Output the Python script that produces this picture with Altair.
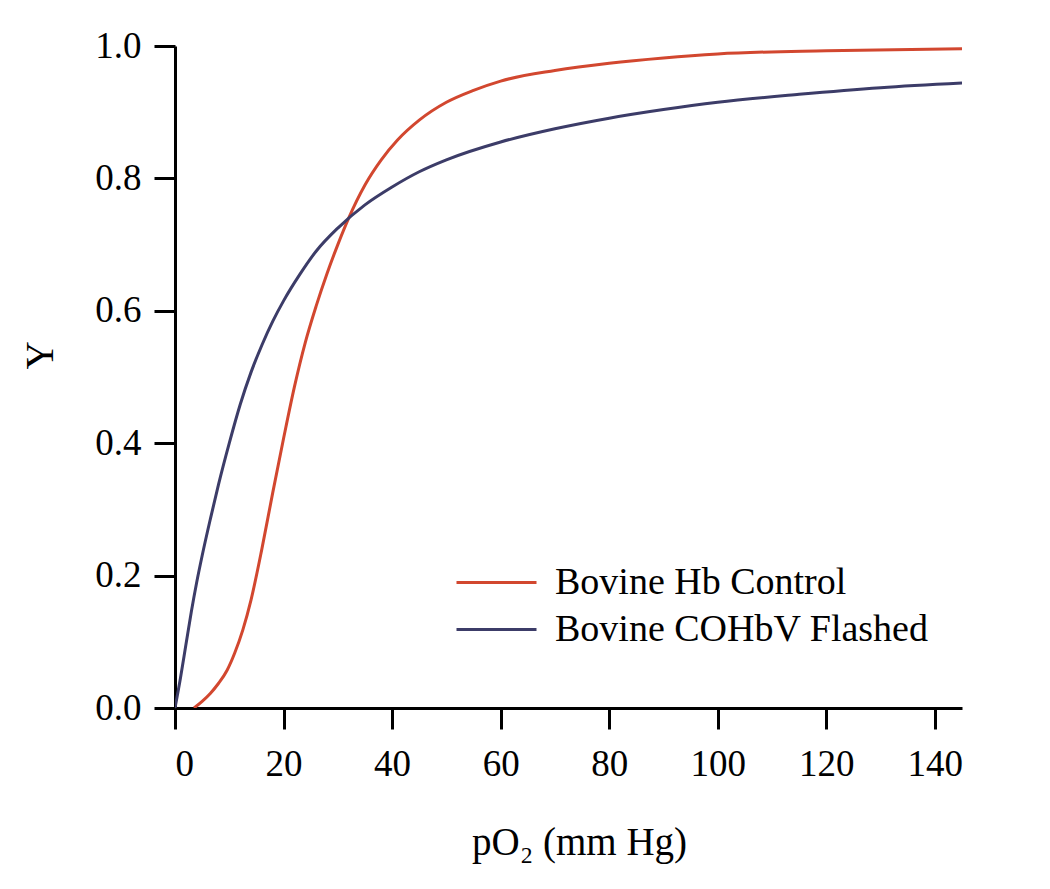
import altair as alt
import pandas as pd

series_names = ["Bovine Hb Control", "Bovine COHbV Flashed"]
series_colors = ["#d2472f", "#3c3c68"]

control_x = [3.5, 5, 6.5, 8, 9.6, 11, 12.5, 14, 16, 18, 20, 22, 24, 26, 28, 30, 32, 35, 38, 41, 45, 50, 55, 60, 70, 80, 90, 100, 120, 145]
control_y = [0.0, 0.01, 0.022, 0.037, 0.057, 0.083, 0.118, 0.163, 0.24, 0.325, 0.407, 0.485, 0.552, 0.607, 0.656, 0.70, 0.74, 0.79, 0.828, 0.858, 0.888, 0.915, 0.933, 0.947, 0.963, 0.974, 0.982, 0.988, 0.993, 0.996]

flashed_x = [0, 1, 2, 3, 4, 5, 6.5, 8, 10, 12, 14, 16, 18, 20, 23, 26, 30, 35, 40, 45, 50, 60, 70, 80, 90, 100, 115, 130, 145]
flashed_y = [0.0, 0.045, 0.095, 0.145, 0.19, 0.23, 0.285, 0.337, 0.40, 0.458, 0.507, 0.548, 0.584, 0.615, 0.655, 0.69, 0.725, 0.76, 0.787, 0.81, 0.828, 0.855, 0.875, 0.891, 0.904, 0.915, 0.927, 0.937, 0.944]

x_ticks = [0, 20, 40, 60, 80, 100, 120, 140]
y_ticks = [0.0, 0.2, 0.4, 0.6, 0.8, 1.0]

rows = []
for xv, yv in zip(control_x, control_y):
    rows.append({"pO2": xv, "Y": yv, "series": series_names[0]})
for xv, yv in zip(flashed_x, flashed_y):
    rows.append({"pO2": xv, "Y": yv, "series": series_names[1]})
df = pd.DataFrame(rows)

FONT = "Liberation Serif"

chart = alt.Chart(df).mark_line(strokeWidth=3, interpolate="monotone", clip=True).encode(
    x=alt.X("pO2:Q",
            scale=alt.Scale(domain=[0, 145], nice=False, zero=False),
            axis=alt.Axis(values=x_ticks, title="pO₂ (mm Hg)", format="d",
                          titleX=404, titleY=146, titleBaseline="alphabetic",
                          labelPadding=17)),
    y=alt.Y("Y:Q",
            scale=alt.Scale(domain=[0, 1], nice=False),
            axis=alt.Axis(values=y_ticks, title="Y", format=".1f",
                          titleX=-135, titleY=309, titleAngle=-90,
                          titleBaseline="middle", titleAlign="center",
                          labelPadding=13)),
    color=alt.Color("series:N",
                    scale=alt.Scale(domain=series_names, range=series_colors),
                    sort=series_names,
                    legend=alt.Legend(title=None, orient="none", legendX=280, legendY=514,
                                      symbolType="stroke", symbolSize=6400, symbolStrokeWidth=3,
                                      clipHeight=45,
                                      labelFont=FONT, labelFontSize=38, labelColor="black",
                                      labelLimit=600,
                                      labelOffset=17, rowPadding=2, padding=0, offset=0)),
    order=alt.Order("pO2:Q"),
).properties(
    width=787, height=662,
    autosize=alt.AutoSizeParams(type="none"),
    padding={"left": 167, "top": 38, "right": 80, "bottom": 173},
).configure_axis(
    grid=False,
    domainColor="black", domainWidth=3,
    tickColor="black", tickWidth=3, tickSize=21,
    labelFont=FONT, labelFontSize=37, labelColor="black",
    titleFont=FONT, titleFontSize=39, titleColor="black", titleFontWeight="normal",
).configure_view(stroke=None)

chart.save("out.html", embed_options={"renderer": "svg", "actions": False})
